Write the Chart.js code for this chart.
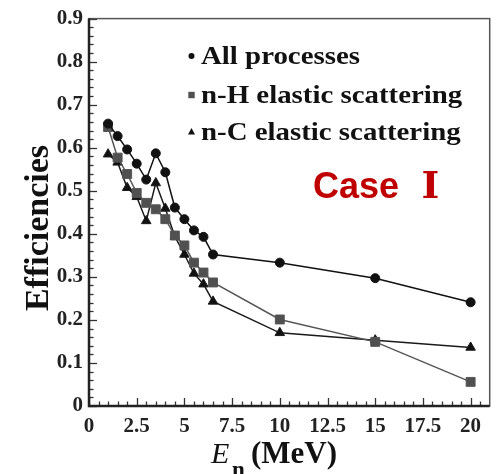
<!DOCTYPE html>
<html>
<head>
<meta charset="utf-8">
<script src="https://cdn.jsdelivr.net/npm/chart.js@4/dist/chart.umd.min.js"></script>
<style>
  html, body { margin: 0; padding: 0; background: #fff; }
  #wrap { width: 497px; height: 474px; }
</style>
</head>
<body>
<div id="wrap"><canvas id="eff-chart"></canvas></div>
<script>
// neutron energy (MeV)
const energies = [1, 1.5, 2, 2.5, 3, 3.5, 4, 4.5, 5, 5.5, 6, 6.5, 10, 15, 20];
const allProcesses = [0.656, 0.627, 0.596, 0.563, 0.526, 0.587, 0.543, 0.461, 0.434, 0.408, 0.393, 0.352, 0.333, 0.297, 0.241];
const nHElastic = [0.648, 0.577, 0.539, 0.495, 0.472, 0.457, 0.434, 0.396, 0.373, 0.333, 0.310, 0.287, 0.201, 0.149, 0.056];
const nCElastic = [0.585, 0.566, 0.507, 0.486, 0.430, 0.518, 0.459, 0.394, 0.352, 0.308, 0.283, 0.243, 0.170, 0.153, 0.136];
const seriesLabels = ['All processes', 'n-H elastic scattering', 'n-C elastic scattering'];
const xTicks = [0, 2.5, 5, 7.5, 10, 12.5, 15, 17.5, 20];
const yTicks = [0, 0.1, 0.2, 0.3, 0.4, 0.5, 0.6, 0.7, 0.8, 0.9];

const ctx = document.getElementById('eff-chart');
const toPoints = (ys) => ys.map((y, i) => ({ x: energies[i], y: y }));
const serif = '"Liberation Serif", "Times New Roman", serif';

// inward ticks, frame, legend, titles
const decorations = {
  id: 'decorations',
  afterDraw(chart) {
    const c = chart.ctx;
    const a = chart.chartArea;
    const xs = chart.scales.x;
    const ys = chart.scales.y;
    c.save();
    c.strokeStyle = '#333';
    c.lineWidth = 1.3;
    // x ticks
    for (let v = 0; v <= 20.5 + 1e-9; v += 0.5) {
      const px = Math.round(xs.getPixelForValue(v)) + 0.5;
      const major = Math.abs(v / 2.5 - Math.round(v / 2.5)) < 1e-6;
      c.beginPath();
      c.moveTo(px, a.bottom);
      c.lineTo(px, a.bottom - (major ? 8 : 4.5));
      c.stroke();
    }
    // y ticks
    for (let i = 0; i <= 45; i++) {
      const v = i * 0.02;
      const py = Math.round(ys.getPixelForValue(v)) + 0.5;
      const major = i % 5 === 0;
      c.beginPath();
      c.moveTo(a.left, py);
      c.lineTo(a.left + (major ? 8 : 4.5), py);
      c.stroke();
    }
    // frame
    c.strokeStyle = '#555';
    c.lineWidth = 1.5;
    c.strokeRect(a.left, a.top, a.right - a.left, a.bottom - a.top);
    c.strokeStyle = '#222';
    c.lineWidth = 2.5;
    c.beginPath();
    c.moveTo(a.left, a.top);
    c.lineTo(a.left, a.bottom);
    c.lineTo(a.right, a.bottom);
    c.stroke();

    // legend
    const rows = [56, 95, 132];
    chart.data.datasets.forEach((ds, i) => {
      const mx = 191.5, my = rows[i];
      c.fillStyle = ds.backgroundColor;
      c.beginPath();
      if (ds.pointStyle === 'circle') {
        c.arc(mx, my, 3, 0, Math.PI * 2);
      } else if (ds.pointStyle === 'rect') {
        c.rect(mx - 3.2, my - 3.2, 6.4, 6.4);
      } else {
        c.moveTo(mx, my - 4);
        c.lineTo(mx + 3.5, my + 2.5);
        c.lineTo(mx - 3.5, my + 2.5);
        c.closePath();
      }
      c.fill();
      c.save();
      c.fillStyle = '#111';
      c.font = 'bold 26px ' + serif;
      c.textBaseline = 'alphabetic';
      c.translate(201, rows[i] + 7.5);
      c.scale(1.11, 1);
      c.fillText(ds.label, 0, 0);
      c.restore();
    });

    // Case label
    c.fillStyle = '#c00000';
    c.font = 'bold 36px "Liberation Sans", Arial, sans-serif';
    c.textBaseline = 'alphabetic';
    c.fillText('Case', 313, 198);
    c.font = 'bold 38px "DejaVu Serif", "Liberation Serif", serif';
    c.textAlign = 'center';
    c.fillText('Ⅰ', 430.5, 198);
    c.textAlign = 'left';

    // y title
    c.save();
    c.fillStyle = '#111';
    c.font = 'bold 34px ' + serif;
    c.translate(48, 228);
    c.rotate(-Math.PI / 2);
    c.textAlign = 'center';
    c.fillText('Efficiencies', 0, 0);
    c.restore();

    // x title
    c.fillStyle = '#111';
    c.font = 'italic 30px ' + serif;
    c.fillText('E', 211, 463);
    c.font = 'bold 23px ' + serif;
    c.fillText('n', 232, 477);
    c.font = 'bold 31px ' + serif;
    c.fillText('(MeV)', 251, 463);
    c.restore();
  }
};

const effChart = new Chart(ctx, {
  type: 'scatter',
  data: {
    datasets: [
      {
        label: seriesLabels[0],
        data: toPoints(allProcesses),
        showLine: true,
        borderColor: '#111',
        backgroundColor: '#111',
        borderWidth: 1.5,
        pointStyle: 'circle',
        pointRadius: 4.5,
        pointBorderWidth: 1,
      },
      {
        label: seriesLabels[1],
        data: toPoints(nHElastic),
        showLine: true,
        borderColor: '#555',
        backgroundColor: '#505050',
        borderWidth: 1.5,
        pointStyle: 'rect',
        pointRadius: 6.3,
        pointBorderWidth: 1,
      },
      {
        label: seriesLabels[2],
        data: toPoints(nCElastic),
        showLine: true,
        borderColor: '#1a1a1a',
        backgroundColor: '#111',
        borderWidth: 1.5,
        pointStyle: 'triangle',
        pointRadius: 5.5,
        pointBorderWidth: 1,
      }
    ]
  },
  options: {
    responsive: true,
    maintainAspectRatio: false,
    animation: false,
    layout: { padding: { top: 13, right: 2, bottom: 0, left: 0 } },
    plugins: {
      legend: { display: false },
      tooltip: { enabled: false }
    },
    scales: {
      x: {
        type: 'linear',
        min: 0,
        max: 21,
        afterBuildTicks: (scale) => { scale.ticks = xTicks.map(v => ({ value: v })); },
        afterFit: (scale) => { scale.height = 68; },
        grid: { display: false, drawTicks: false },
        border: { display: false },
        ticks: {
          color: '#222',
          padding: 8,
          maxRotation: 0,
          autoSkip: false,
          font: { family: serif, size: 21, weight: 'bold' },
          callback: (v) => String(v)
        }
      },
      y: {
        min: 0,
        max: 0.9,
        afterBuildTicks: (scale) => { scale.ticks = yTicks.map(v => ({ value: v })); },
        afterFit: (scale) => { scale.width = 89; },
        grid: { display: false, drawTicks: false },
        border: { display: false },
        ticks: {
          color: '#222',
          padding: 6,
          autoSkip: false,
          font: { family: serif, size: 21, weight: 'bold' },
          callback: (v) => v === 0 ? '0' : v.toFixed(1)
        }
      }
    }
  },
  plugins: [decorations]
});
</script>
</body>
</html>
